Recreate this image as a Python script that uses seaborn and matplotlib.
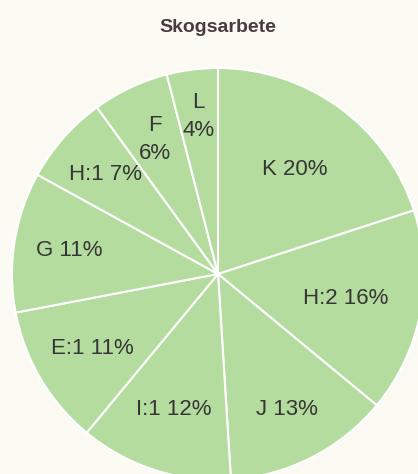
import numpy as np
import matplotlib
matplotlib.use("Agg")
import matplotlib.pyplot as plt
import seaborn as sns

categories = ["K", "H:2", "J", "I:1", "E:1", "G", "H:1", "F", "L"]
values = [20, 16, 13, 12, 11, 11, 7, 6, 4]
label_texts = ["K 20%", "H:2 16%", "J 13%", "I:1 12%", "E:1 11%", "G 11%", "H:1 7%", "F\n6%", "L\n4%"]
title = "Skogsarbete"

sns.set_theme(style="white")
plt.rcParams['font.family'] = ['Liberation Sans', 'DejaVu Sans']

bg = "#fbfaf3"
green = "#b4dc9e"
fig = plt.figure(figsize=(4.18, 4.74), dpi=100, facecolor=bg)

W, H = 418, 474
cx, cy, R = 218, 274, 206
ax = fig.add_axes([(cx - R) / W, (H - cy - R) / H, 2 * R / W, 2 * R / H])
ax.set_facecolor(bg)
ax.axis("off")

wedges, _ = ax.pie(values, startangle=90, counterclock=False,
                   colors=[green] * len(values),
                   wedgeprops=dict(edgecolor="white", linewidth=1.5))
ax.set_xlim(-1, 1)
ax.set_ylim(-1, 1)
ax.set_aspect("auto")

dists = [0.63, 0.63, 0.74, 0.69, 0.71, 0.73, 0.73, 0.72, 0.77]
for w, txt, d in zip(wedges, label_texts, dists):
    ang = np.deg2rad((w.theta1 + w.theta2) / 2)
    ax.text(d * np.cos(ang), d * np.sin(ang), txt, ha="center", va="center",
            fontsize=16, color="#363636", linespacing=1.45)

fig.text(cx / W, 1 - 27 / H, title, ha="center", va="center",
         fontsize=14, fontweight="bold", color="#4a3a42")

fig.savefig("out.png", dpi=100, facecolor=bg)
